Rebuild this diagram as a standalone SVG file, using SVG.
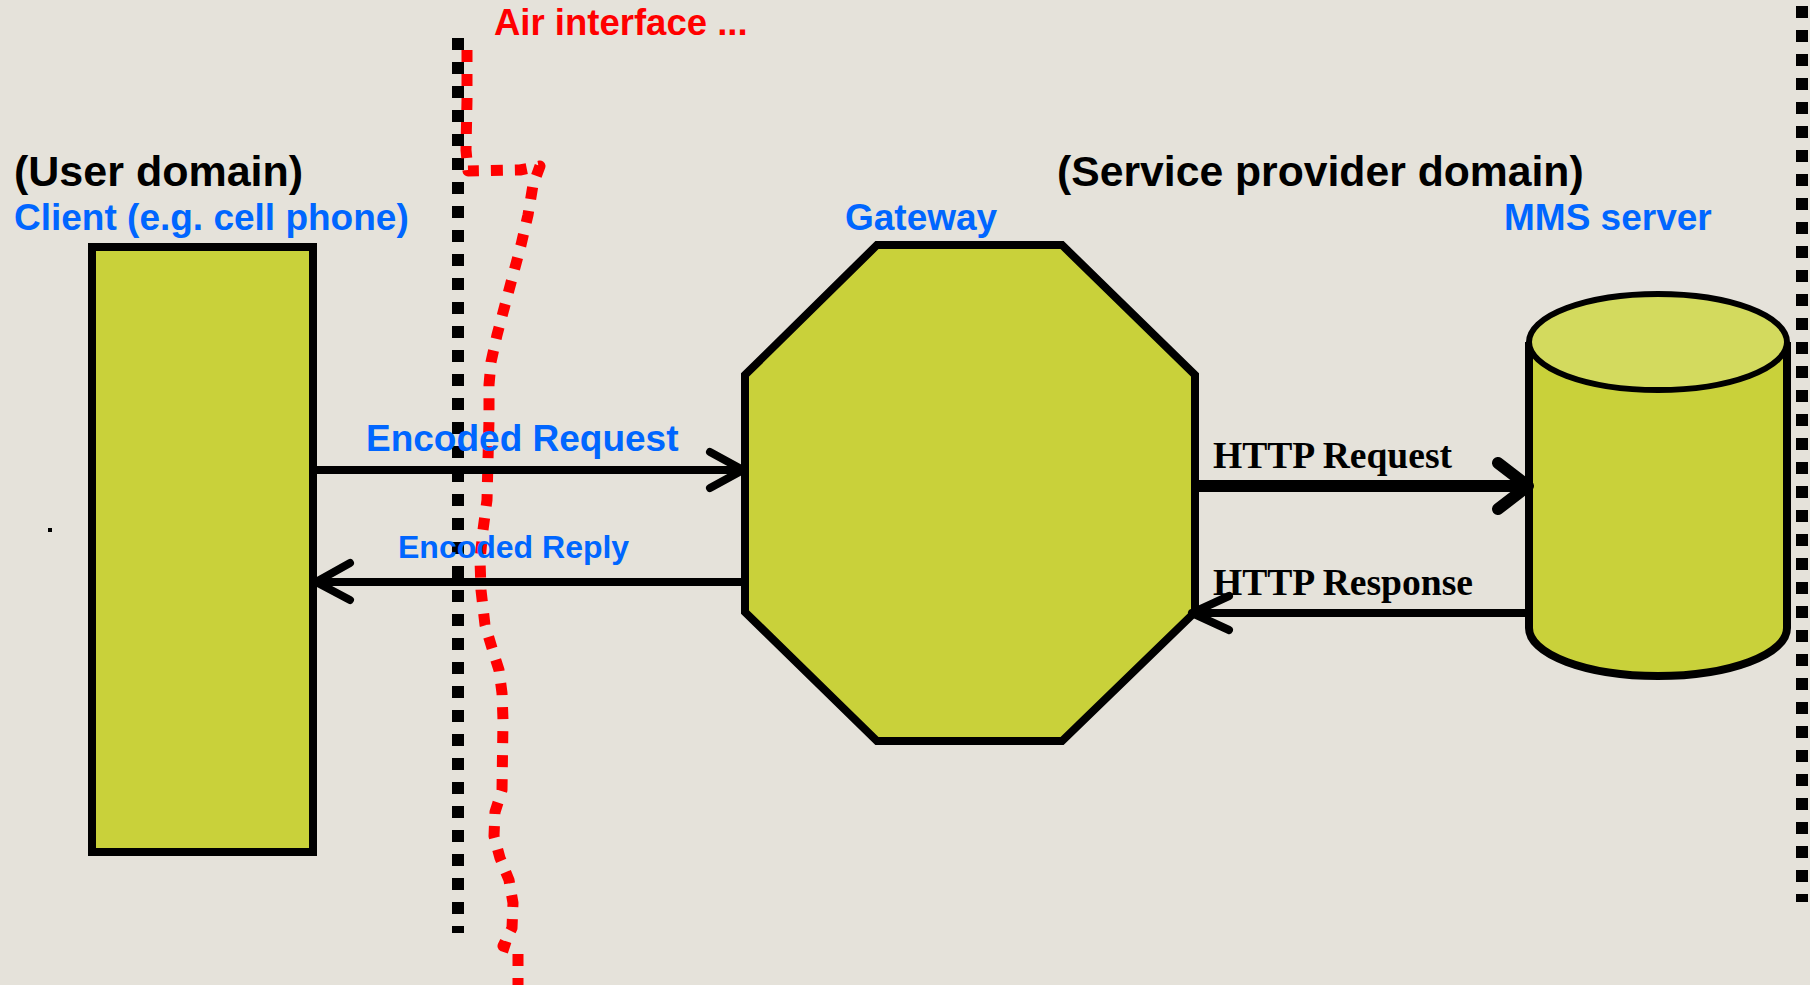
<svg xmlns="http://www.w3.org/2000/svg" width="1810" height="985" viewBox="0 0 1810 985">
<style>
.bg{fill:#E5E2DA}
.node{fill:#C9D13A;stroke:#000;stroke-width:8}
.top{fill:#D3DA5E;stroke:#000;stroke-width:6}
.bdot{fill:none;stroke:#000;stroke-width:12;stroke-dasharray:12 12}
.rdot{fill:none;stroke:#FF0000;stroke-width:11;stroke-dasharray:12 12;stroke-linejoin:round}
.conn{fill:none;stroke:#000;stroke-width:8;stroke-linecap:round;stroke-linejoin:round}
.thick{stroke-width:12}
.sans{font-family:"Liberation Sans",Arial,sans-serif;font-weight:bold}
.serif{font-family:"Liberation Serif","Times New Roman",serif;font-weight:bold}
.blue{fill:#0066FF}
.black{fill:#000}
.red{fill:#FF0000}
</style>
<rect class="bg" x="0" y="0" width="1810" height="985"/>
<rect x="48" y="528" width="4" height="4" fill="#000"/>
<g id="domains">
<path class="bdot" d="M458 38 V933"/>
<path class="bdot" d="M1802 6 V902"/>
<text class="sans black" x="14" y="186" font-size="43">(User domain)</text>
<text class="sans black" x="1057" y="186" font-size="42.7">(Service provider domain)</text>
</g>
<g id="air">
<path class="rdot" d="M467 50 L467 100 L466 150 L468 171 L520 170 L540 166 L533 185 L528 215 L521 245 L513 275 L505 305 L497 335 L491 362 L489 385 L489 420 L488 460 L487 500 L483 530 L480 560 L481 590 L485 625 L492 648 L499 670 L502 693 L503 720 L502 790 L495 812 L494 836 L500 858 L509 880 L513 903 L512 928 L503 946 L518 951 L518 985"/>
<text class="sans red" x="494" y="35" font-size="36.5">Air interface ...</text>
</g>
<g id="client">
<rect class="node" x="92" y="247" width="221" height="605"/>
<text class="sans blue" x="14" y="230" font-size="37">Client (e.g. cell phone)</text>
</g>
<g id="gateway">
<polygon class="node" points="877,245 1062,245 1195,375 1195,612 1062,741 877,741 745,612 745,375"/>
<text class="sans blue" x="845" y="230" font-size="37">Gateway</text>
</g>
<g id="mms">
<path class="node" stroke-width="6" d="M1529 342 V628 A129 48 0 0 0 1787 628 V342"/>
<ellipse class="top" cx="1658" cy="342" rx="129" ry="48"/>
<text class="sans blue" x="1504" y="230" font-size="37">MMS server</text>
</g>
<g id="connectors">
<path class="conn" d="M317 470 H743 M710 452 L743 470 L710 488"/>
<text class="sans blue" x="366" y="451" font-size="37">Encoded Request</text>
<path class="conn" d="M743 582 H316 M350 563 L316 582 L350 600"/>
<text class="sans blue" x="398" y="558" font-size="32">Encoded Reply</text>
<path class="conn thick" d="M1198 486 H1528 M1498 463 L1528 486 L1498 509"/>
<text class="serif black" x="1213" y="468" font-size="37.6">HTTP Request</text>
<path class="conn" d="M1528 613 H1192 M1229 596 L1192 613 L1229 630"/>
<text class="serif black" x="1213" y="595" font-size="37.6">HTTP Response</text>
</g>
</svg>
